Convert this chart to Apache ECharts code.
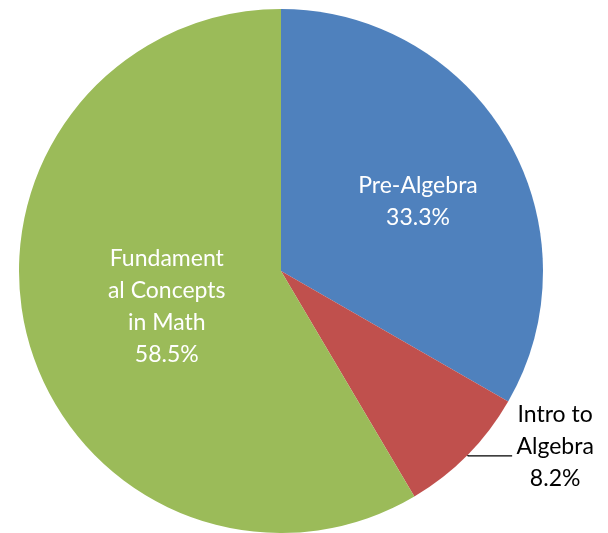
<!DOCTYPE html>
<html>
<head>
<meta charset="utf-8">
<script src="https://cdn.jsdelivr.net/npm/echarts@6/dist/echarts.min.js"></script>
<style>
  html, body { margin: 0; padding: 0; background: #fff; }
  #chart { width: 608px; height: 533px; }
</style>
</head>
<body>
<div id="chart"></div>
<script>
// course names, share of students (%), colours as in the original
const courses = ["Pre-Algebra", "Intro to Algebra", "Fundamental Concepts in Math"];
const shares = [33.3, 8.2, 58.5];
// how the label text is broken in the picture
const labelLines = [["Pre-Algebra"], ["Intro to", "Algebra"], ["Fundament", "al Concepts", "in Math"]];
const colors = ["#4F81BD", "#C0504D", "#9BBB59"];

const chart = echarts.init(document.getElementById("chart"));

const pieData = courses.map(function (c, i) {
  const lines = labelLines[i].concat([shares[i].toFixed(1) + "%"]);
  const item = {
    name: c,
    value: shares[i],
    itemStyle: { color: colors[i] },
    label: {
      formatter: lines.map(function (l) { return "{t|" + l + "}"; }).join("\n")
    }
  };
  if (i === 1) {
    // small slice: label outside with a short leader line
    item.label.position = "outside";
    item.label.color = "#000";
    item.labelLine = { show: true, length: 1, length2: 44, lineStyle: { color: "#000", width: 1.3 } };
  }
  return item;
});

chart.setOption({
  backgroundColor: "#fff",
  animation: false,
  series: [
    {
      type: "pie",
      center: [281, 271],
      radius: [0, 262],
      startAngle: 90,
      clockwise: true,
      avoidLabelOverlap: false,
      data: pieData,
      label: {
        show: true,
        position: "inside",
        color: "#fff",
        fontFamily: "Lato",
        fontSize: 23,
        lineHeight: 32,
        rich: {
          t: { fontFamily: "Lato", fontSize: 23, lineHeight: 32, width: 86, align: "center" }
        }
      },
      labelLayout: function (p) {
        if (p.dataIndex === 0) return { dx: 21, dy: -2 };
        if (p.dataIndex === 2) return { dx: 15, dy: 0 };
        return { dx: -5, dy: -9 };
      },
      labelLine: { show: false },
      emphasis: { disabled: true }
    }
  ]
});
</script>
</body>
</html>
